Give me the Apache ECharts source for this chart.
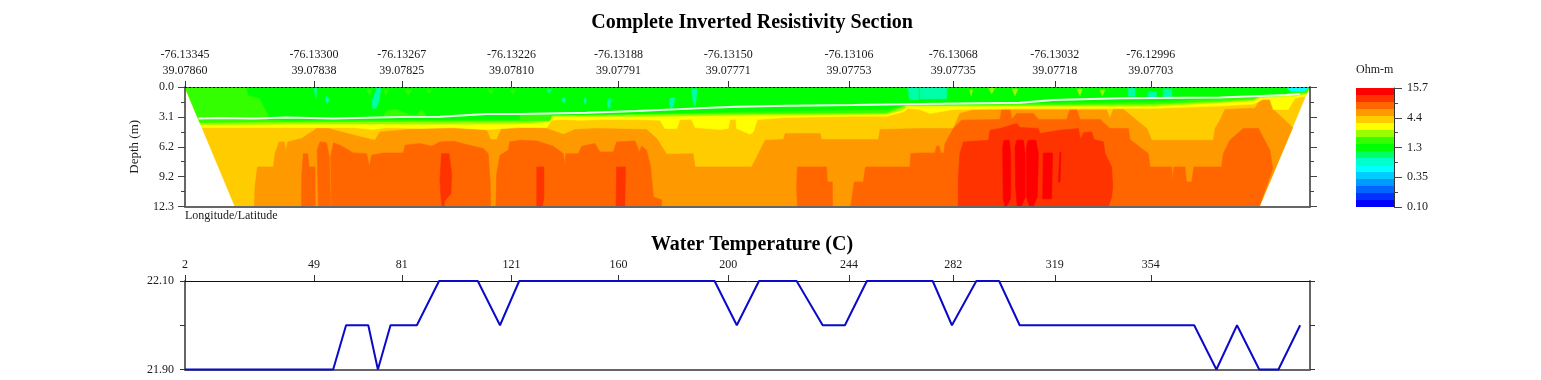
<!DOCTYPE html>
<html><head><meta charset="utf-8">
<style>html,body{margin:0;padding:0;background:#fff}#c{width:1541px;height:380px}</style>
<script src="https://cdn.jsdelivr.net/npm/echarts@6/dist/echarts.min.js"></script>
</head><body><div id="c"></div>
<script>
// ---- tick labels ----
const stationTicks = [2,49,81,121,160,200,244,282,319,354];
const longitudes = ['-76.13345','-76.13300','-76.13267','-76.13226','-76.13188','-76.13150','-76.13106','-76.13068','-76.13032','-76.12996'];
const latitudes = ['39.07860','39.07838','39.07825','39.07810','39.07791','39.07771','39.07753','39.07735','39.07718','39.07703'];
const depthLabels = ['0.0','3.1','6.2','9.2','12.3'];
const scaleLabels = ['0.10','0.35','1.3','4.4','15.7'];
const scaleColors = ['#0000ff','#0033ff','#0066ff','#0099ff','#00ccff','#00ffff','#00ffcc','#00ff66','#00ff00','#33ff00','#99ff00','#ffff00','#ffcc00','#ff9900','#ff6600','#ff3300','#ff0000'];

// ---- water temperature: [station, deg C] ----
const temperature = [[2,21.9],[56,21.9],[60.7,22],[68.8,22],[72.3,21.9],[76.9,22],[86.5,22],[94.6,22.1],[108.7,22.1],[116.8,22],[123.8,22.1],[195,22.1],[203.1,22],[211.2,22.1],[224.9,22.1],[234.4,22],[242.5,22],[250.5,22.1],[274.5,22.1],[281.5,22],[290.4,22.1],[298.7,22.1],[306.2,22],[369.8,22],[377.9,21.9],[385.4,22],[393.5,21.9],[400.5,21.9],[408.4,22]];

// ---- water bottom line: [station, depth] ----
const waterBottom = [[6.9,3.24],[14.8,3.2],[26.9,3.24],[39,3.13],[56.1,3.24],[80.4,3.1],[94.9,3.07],[111.9,2.79],[124.1,2.79],[148.4,2.65],[166.6,2.48],[188.5,2.2],[203.1,2.03],[221.3,1.93],[245.6,1.86],[269.9,1.76],[306.3,1.62],[318.5,1.34],[342.8,1.17],[379.2,1.07],[403.5,.83],[408.4,.72]];

// ---- resistivity contour regions: [station, depth] outlines ----
const sectionOutline = [[[2,0],[20.2,12.3],[393.5,12.3],[411.8,0]]];
const band4_4 = [[[27.3,12.3],[27.5,10.3],[28.4,8.23],[34.2,8.23],[34.8,6.86],[36.3,5.65],[38.2,5.65],[38.7,6.68],[39.4,5.65],[44.5,5.3],[50,4.27],[54.2,4.27],[65.8,5.13],[71.2,5.48],[73.1,4.62],[87.6,4.27],[99.8,4.27],[111.9,4.44],[113.4,5.41],[115.6,5.41],[117.4,4.27],[124.1,4.17],[133.8,4.27],[139.9,4.89],[144.1,4.38],[152,4.27],[170.2,4.38],[173.9,5.3],[177.5,6.92],[187.2,6.86],[187.9,8.23],[208.5,8.23],[211,6.86],[213.4,5.48],[220.1,5.41],[220.7,4.79],[233.4,4.79],[234,5.41],[254.7,5.41],[255.3,4.38],[269.9,4.27],[282,4.27],[284.4,2.72],[289.3,2.38],[337.9,2.38],[339.1,3.24],[340.3,2.31],[344,2.31],[352.5,4.27],[354.3,5.48],[376.8,5.48],[377.4,4.27],[379.2,3.41],[381,2.31],[391.9,2.2],[393.8,1.34],[397.4,1.34],[398.6,2.31],[405.7,4.17],[393.5,12.3]]];
const band6_5 = [
 [[44.5,12.3],[44.5,9.27],[45.1,6.86],[46.7,6.86],[47.2,8.23],[49.4,8.23],[49.4,12.3]],
 [[50.6,12.3],[50.2,6.51],[51.2,5.65],[53.6,5.75],[54.6,7.2],[55.1,12.3]],
 [[55.4,12.3],[55.1,7.2],[56.1,5.75],[58.5,5.99],[63.4,6.79],[68.2,6.86],[69.2,8.23],[70,7.03],[74.3,6.79],[81.6,6.79],[82.2,5.99],[87.6,5.82],[91.9,6.1],[94.9,5.65],[99.8,5.58],[107.1,6.1],[110.7,6.34],[112.5,6.86],[113.2,9.61],[113.4,12.3]],
 [[115.3,12.3],[115.6,8.92],[116.8,7.03],[119.8,6.51],[120.4,5.65],[124.1,5.48],[130.2,5.55],[136.2,6.1],[139.9,6.86],[140.5,8.23],[140.8,6.86],[145.3,6.86],[146.6,6.1],[151.4,5.82],[153.2,6.68],[158.1,6.68],[159.3,5.65],[166,5.55],[167.6,6.68],[168.4,6.1],[170.2,6.51],[171.7,8.23],[172.7,11.33],[175.7,11.61],[175.7,12.3]],
 [[225.2,12.3],[224.9,10.3],[225.2,8.23],[235.8,8.23],[236.1,9.78],[237.9,9.78],[238,12.3]],
 [[244.6,12.3],[245.9,9.78],[249.2,9.78],[250,8.23],[266.2,8.23],[266.5,6.86],[269.9,6.79],[275.3,6.79],[275.9,6.1],[276.9,6.1],[277.4,6.79],[278.6,6.79],[279,5.82],[282,4.27],[285,3.41],[299,3.34],[299.6,2.38],[302.7,2.38],[303.3,3.34],[305.1,2.72],[311.2,2.72],[313,3.34],[323.3,3.34],[324.5,2.38],[327,2.38],[328.2,3.34],[335.5,3.34],[339.1,4.27],[345.8,4.27],[346.4,5.41],[353.1,6.86],[353.7,8.23],[361.6,8.23],[362,9.78],[362.4,8.23],[366.4,8.23],[367,9.78],[368.9,9.78],[369.7,8.23],[379.8,8.23],[380.4,6.86],[382.8,5.48],[387.7,4.27],[393.2,4.27],[397.4,6.51],[398.4,8.4],[393.5,12.3]]
];
const band9_5 = [
 [[95.3,11.33],[94.9,9.61],[95.5,6.86],[98.2,6.86],[99.2,8.92],[98.9,10.99],[96.7,11.68],[96.4,12.26],[95.7,12.26]],
 [[130.2,12.3],[130.2,8.23],[132.8,8.23],[132.8,11.33],[132.3,12.3]],
 [[159.1,12.3],[159.3,8.23],[162.5,8.23],[162.3,12.3]],
 [[283.8,12.3],[283.8,9.61],[284.4,6.86],[285.7,5.65],[294.8,5.48],[295.4,4.44],[299,4.27],[305.1,3.76],[306.3,4.17],[313,4.27],[313.6,4.79],[320.9,4.44],[327.6,4.27],[328.4,5.41],[329.4,4.72],[332.4,4.62],[333.3,5.41],[336.7,5.65],[337.3,6.86],[339.7,8.23],[340.1,10.3],[339.7,11.33],[338.5,12.3]]
];
const band15_7 = [
 [[300.8,12.26],[300.2,11.51],[300,6.17],[300.5,5.48],[302.4,5.48],[302.9,6.86],[302.9,11.51],[301.4,12.26]],
 [[305.3,12.26],[304.7,10.3],[304.5,6.17],[305.1,5.48],[307.5,5.48],[308.2,6.86],[308.2,11.33],[306.9,12.26]],
 [[309.7,12.26],[308.7,11.33],[308.7,6.17],[309.3,5.48],[312.1,5.48],[313,6.86],[312.6,11.33],[311.2,12.26]],
 [[314.6,11.51],[314.8,6.79],[318.2,6.79],[317.8,11.51]],
 [[320.3,9.78],[320.9,6.68],[321.2,6.68],[320.9,9.78]]
];
const bandYellow = [[[8.2,4.17],[63.3,4.17],[70.6,4.38],[75.5,4.17],[87.6,4.27],[99.8,4.17],[111.9,4.38],[124.1,4.17],[133.8,4.17],[135.6,3.41],[139.9,3.34],[146,3.41],[154.5,3.34],[166.6,3.34],[175.1,3.41],[176.9,4.27],[181.2,4.27],[182.4,3.34],[186.6,3.34],[187.9,4.17],[197,4.38],[200,4.27],[200.6,3.34],[202.8,3.34],[203,4.27],[207.9,4.86],[209.1,4.62],[210.6,3.34],[221.3,3.13],[245.6,3],[257.7,3],[263.8,2.55],[265.6,2.2],[269.9,2.31],[273.5,2.72],[282,2.31],[306.3,2.2],[354.9,2.2],[379.2,1.96],[391.3,1.76],[395,1.27],[397.4,1.27],[398.6,2.31],[404.1,2.31],[406.5,1.17],[408.9,1],[410.3,1],[411.8,0],[2,0]]];
const bandLime = [[[7.8,3.86],[39,3.82],[75.5,3.82],[99.8,3.82],[124.1,3.76],[134.4,3.58],[136.2,3],[172.7,3],[209.1,2.89],[257.7,2.79],[263.8,2.31],[265,1.96],[269.9,1.96],[306.3,1.96],[354.9,1.96],[391.3,1.41],[393.8,1.07],[403.5,.93],[406.5,.93],[409.6,.72],[410.6,.72],[411.8,0],[2,0]]];
const bandLightGreen = [[[7.4,3.65],[39,3.58],[124.1,3.51],[135,3.41],[135.6,2.89],[172.7,2.79],[257.7,2.65],[265,1.86],[269.9,1.86],[354.9,1.76],[391.3,1.27],[393.8,.93],[409.6,.59],[410.9,.59],[411.8,0],[2,0]]];
const bandGreen = [[[24.5,.14],[25.1,.83],[29.3,1.17],[32.4,2.89],[32.4,3.34],[39,3.41],[124.1,3.34],[135,2.89],[184.8,2.65],[221.3,2.45],[257.7,2.31],[263.8,1.86],[265.6,1.69],[269.9,1.76],[306.3,1.62],[354.9,1.52],[391.3,1],[403.5,.65],[408.4,.31],[410.8,.07],[410.8,0],[24,0]]];
const patchesLightGreen = [
 [[74.3,3],[75.5,2.45],[79.1,2.31],[84,2.89],[86.4,2.89],[88.2,2.31],[90.1,3]],
 [[124.1,2.86],[135.6,2.86],[135,3.41],[124.1,3.4]],
 [[68.2,.31],[70,.31],[69.4,.83]],[[74.3,.31],[76.1,.31],[75.2,.83]],[[82.2,.31],[84.6,.31],[83.4,.83]],
 [[90.1,.31],[91.9,.31],[90.7,.65]],[[112.5,.31],[114.4,.31],[113.4,.72]],[[120.4,.31],[122.3,.31],[121.4,.72]]
];
const patchesLime = [[[288,.3],[289,.3],[288.5,.9]],[[295,.15],[297,.15],[296,.7]],[[303.5,.2],[305.5,.2],[304.5,.9]],[[327,.2],[329,.2],[328.2,.9]],[[335.5,.3],[337.3,.3],[336.3,.9]]];
const patchesAqua = [
 [[71.9,.14],[73.3,.14],[72.8,1.34],[71.6,2.2],[70.3,2.2],[70.3,1.34]],
 [[49.1,.14],[50,.14],[49.7,1.27]],
 [[53.1,1.34],[53.6,.93],[54.6,1.34],[53.9,1.69]],
 [[133.8,.24],[135.6,.24],[134.7,.65]],
 [[139.3,1.3],[140,1],[140.8,1.3],[140.2,1.7]],
 [[147.3,1.3],[147.8,1.1],[148.3,1.4],[147.9,1.8]],
 [[155.9,1.7],[156.4,1.2],[157.2,1.2],[156.9,2.1],[156.2,2.2]],
 [[178.4,1.6],[179,1.1],[180.5,1.1],[180,2],[179,2.2]],
 [[186.6,.2],[188.6,.2],[188.3,1.2],[187.8,2],[187,1.2]],
 [[265.6,.1],[269.3,.1],[269.3,1.3],[266,1.3]],
 [[269.9,.1],[279.6,.1],[279.6,1.2],[269.9,1.2]],
 [[345.8,.15],[348.2,.15],[348.2,.95],[345.8,.95]],
 [[353,.5],[356,.5],[356,1.1],[353,1.1]],
 [[358.5,.2],[361.6,.2],[361.6,1],[358.5,1]]
];
const patchesCyan = [[[403.5,.05],[411.6,.05],[410,.4],[405,.45]]];

// ---- drawing ----
const serif = '"Liberation Serif","Times New Roman",serif';
const grey = '#666';
const ink = '#1a1a1a';
const chart = echarts.init(document.getElementById('c'), null, {renderer:'canvas'});

function layer(color, polys){
  return {type:'custom', xAxisIndex:1, yAxisIndex:0, clip:true, silent:true,
    data:polys.map((p,i)=>[i]),
    renderItem:(params,api)=>({type:'polygon',
      shape:{points:polys[params.dataIndex].map(p=>api.coord(p))},
      style:{fill:color,stroke:color,lineWidth:.6}})};
}
const grids = [
  {left:185,top:87,width:1125,height:119.5},
  {left:185,top:281,width:1125,height:88.5},
  {left:1356,top:88,width:38,height:119}
];
const topAxis = (g,labelFn,lineStyle,margin)=>({type:'value',gridIndex:g,position:'top',min:2,max:412,z:10,
  splitLine:{show:false},axisLine:{show:true,onZero:false,lineStyle},
  axisTick:{show:true,customValues:stationTicks,length:6,lineStyle:{color:'#333',width:1}},
  axisLabel:{show:true,customValues:stationTicks,formatter:labelFn,margin,color:ink,fontFamily:serif,fontSize:12,lineHeight:16,hideOverlap:false}});
const botAxis = g=>({type:'value',gridIndex:g,position:'bottom',min:2,max:412,z:10,
  splitLine:{show:false},axisLine:{show:true,onZero:false,lineStyle:{color:grey,width:2}},axisTick:{show:false},axisLabel:{show:false}});
const leftDepth = {type:'value',gridIndex:0,position:'left',inverse:true,min:0,max:12.3,interval:3.075,z:10,
  name:'Depth (m)',nameLocation:'middle',nameGap:44,nameRotate:90,nameTextStyle:{fontFamily:serif,fontSize:13,color:ink},
  splitLine:{show:false},axisLine:{show:true,onZero:false,lineStyle:{color:grey,width:2}},
  axisTick:{show:true,length:7,lineStyle:{color:'#444',width:1}},
  minorTick:{show:true,splitNumber:2,length:4,lineStyle:{color:'#444',width:1}},
  axisLabel:{margin:11,color:ink,fontFamily:serif,fontSize:12,formatter:(v)=>depthLabels[Math.round(v/3.075)]}};
const rightDepth = {...leftDepth,position:'right',name:'',axisLabel:{show:false}};
const leftTemp = {type:'value',gridIndex:1,position:'left',min:21.9,max:22.1,interval:.1,z:10,
  splitLine:{show:false},axisLine:{show:true,onZero:false,lineStyle:{color:grey,width:2}},
  axisTick:{show:true,length:5,lineStyle:{color:'#333',width:1}},
  axisLabel:{margin:11,color:ink,fontFamily:serif,fontSize:12,customValues:[21.9,22.1],formatter:(v)=>v.toFixed(2)}};
const rightTemp = {...leftTemp,position:'right',axisLabel:{show:false}};
const scaleAxis = {type:'value',gridIndex:2,position:'right',min:0,max:17,interval:4.25,z:10,
  splitLine:{show:false},axisLine:{show:true,onZero:false,lineStyle:{color:'#333',width:1}},
  axisTick:{show:true,length:8,lineStyle:{color:'#444',width:1}},
  minorTick:{show:true,splitNumber:2,length:4,lineStyle:{color:'#444',width:1}},
  axisLabel:{margin:13,color:ink,fontFamily:serif,fontSize:12,formatter:(v)=>scaleLabels[Math.round(v/4.25)]}};

const series = [
  layer('#ffcc00',sectionOutline),
  layer('#ff9900',band4_4),
  layer('#ff6600',band6_5),
  layer('#ff3300',band9_5),
  layer('#ff0000',band15_7),
  layer('#ffff00',bandYellow),
  layer('#99ff00',bandLime),
  layer('#33ff00',bandLightGreen),
  layer('#00ff00',bandGreen),
  layer('#33ff00',patchesLightGreen),
  layer('#99ff00',patchesLime),
  layer('#00ffaa',patchesAqua),
  layer('#00ffff',patchesCyan),
  {type:'line',xAxisIndex:1,yAxisIndex:0,data:waterBottom,showSymbol:false,silent:true,
    lineStyle:{color:'#eaffea',width:2}},
  {type:'line',xAxisIndex:2,yAxisIndex:2,data:temperature,showSymbol:false,silent:true,clip:false,z:20,
    lineStyle:{color:'#0a0ac8',width:2}},
  {type:'custom',xAxisIndex:4,yAxisIndex:4,silent:true,clip:true,
    data:scaleColors.map((c,i)=>[i]),
    renderItem:(params,api)=>{
      const i=params.dataIndex;
      const a=api.coord([0,i]), b=api.coord([1,i+1]);
      return {type:'rect',shape:{x:a[0],y:b[1],width:b[0]-a[0],height:a[1]-b[1]},
        style:{fill:scaleColors[i]}};
    }}
];
const txt=(text,style,pos)=>({text,textStyle:{fontFamily:serif,color:'#000',...style},...pos});
chart.setOption({
  animation:false,
  title:[
    txt('Complete Inverted Resistivity Section',{fontSize:20,fontWeight:'bold'},{left:747,top:8,textAlign:'center'}),
    txt('Water Temperature (C)',{fontSize:20,fontWeight:'bold'},{left:747,top:230,textAlign:'center'}),
    txt('Longitude/Latitude',{fontSize:12,fontWeight:'normal',color:ink},{left:185,top:210,padding:0}),
    txt('Ohm-m',{fontSize:12,fontWeight:'normal',color:ink},{left:1356,top:64,padding:0})
  ],
  grid:grids,
  xAxis:[
    topAxis(0,(v)=>{const i=stationTicks.indexOf(v);return longitudes[i]+'\n'+latitudes[i];},{color:'#111',width:1,type:[2,2]},8),
    botAxis(0),
    topAxis(1,(v)=>String(v),{color:'#111',width:1},8),
    botAxis(1),
    {type:'value',gridIndex:2,min:0,max:1,show:false}
  ],
  yAxis:[leftDepth,rightDepth,leftTemp,rightTemp,scaleAxis],
  series
});
</script></body></html>
